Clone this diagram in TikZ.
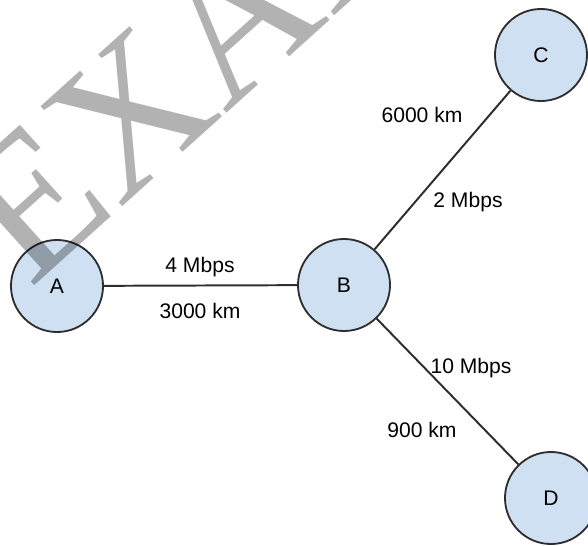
\documentclass[tikz,border=0pt]{standalone}
\usepackage{fontspec}
\setsansfont{Liberation Sans}
\newfontfamily\wmfont{Liberation Serif}
\usetikzlibrary{positioning}
\definecolor{siteblue}{HTML}{CFE0F2}
\definecolor{edgegray}{HTML}{2E2E2E}

\begin{document}
\begin{tikzpicture}[
    x=0.025cm, y=-0.025cm,
    site/.style={circle, draw=edgegray, line width=1.3pt, fill=siteblue, minimum size=2.3cm, inner sep=0pt, font=\sffamily\fontsize{15}{18}\selectfont},
    link/.style={draw=edgegray, line width=1.4pt},
    lbl/.style={anchor=base, inner sep=0pt, font=\sffamily\fontsize{15}{18}\selectfont},
    watermark/.style={rotate=42, anchor=base west, inner sep=0pt, text=black, text opacity=0.3, font=\wmfont\fontsize{140}{140}\selectfont},
]
\clip (0,0) rectangle (588,546);
% SITES
\node[site] (A) at (57,286) {A};
\node[site] (B) at (344,285) {B};
\node[site] (C) at (541,55) {C};
\node[site] (D) at (551,498) {D};
% LINKS
\draw[link] (A) -- (B);
\draw[link] (B) -- (C);
\draw[link] (B) -- (D);
% LABELS
\node[lbl] (ABrate) at (200,272) {4 Mbps};
\node[lbl] (ABdist) at (200,318) {3000 km};
\node[lbl] (BCdist) at (422,122) {6000 km};
\node[lbl] (BCrate) at (468,207) {2 Mbps};
\node[lbl] (BDrate) at (471,373) {10 Mbps};
\node[lbl] (BDdist) at (422,437) {900 km};
% WATERMARK
\node[watermark] (wm) at (30,290) {EXAMPLE};
\end{tikzpicture}
\end{document}
